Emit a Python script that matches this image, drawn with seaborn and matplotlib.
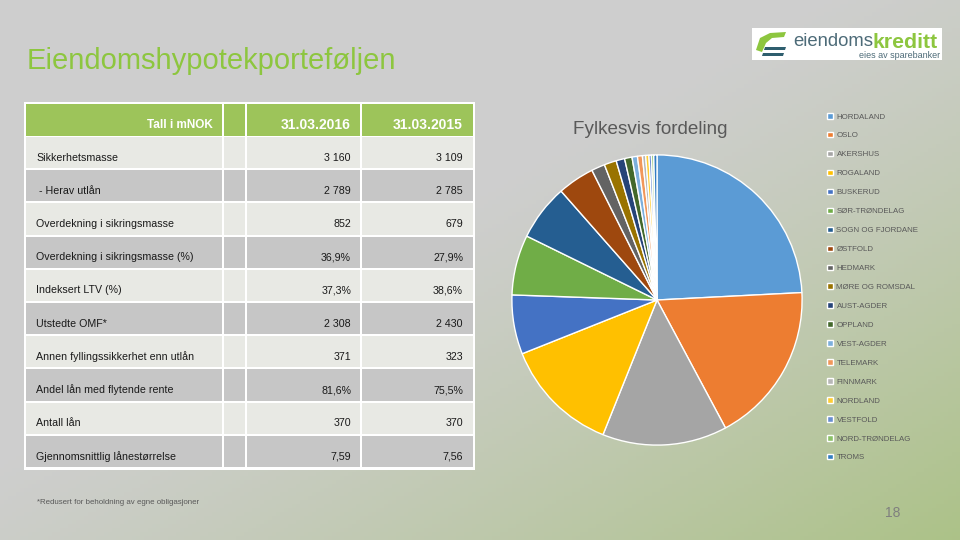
import numpy as np
import seaborn as sns
import matplotlib.pyplot as plt
from matplotlib.patches import Rectangle, Polygon

# table data
row_labels = [
    "Sikkerhetsmasse",
    " - Herav utlån",
    "Overdekning i sikringsmasse",
    "Overdekning i sikringsmasse (%)",
    "Indeksert LTV (%)",
    "Utstedte OMF*",
    "Annen fyllingssikkerhet enn utlån",
    "Andel lån med flytende rente",
    "Antall lån",
    "Gjennomsnittlig lånestørrelse",
]
col_2016 = ["3 160", "2 789", "852", "36,9%", "37,3%", "2 308", "371", "81,6%", "370", "7,59"]
col_2015 = ["3 109", "2 785", "679", "27,9%", "38,6%", "2 430", "323", "75,5%", "370", "7,56"]
header = ["Tall i mNOK", "31.03.2016", "31.03.2015"]

# pie data (share of portfolio, %)
counties = [
    "HORDALAND", "OSLO", "AKERSHUS", "ROGALAND", "BUSKERUD", "SØR-TRØNDELAG",
    "SOGN OG FJORDANE", "ØSTFOLD", "HEDMARK", "MØRE OG ROMSDAL", "AUST-AGDER",
    "OPPLAND", "VEST-AGDER", "TELEMARK", "FINNMARK", "NORDLAND", "VESTFOLD",
    "NORD-TRØNDELAG", "TROMS",
]
shares = [24.2, 18.0, 13.9, 12.9, 6.6, 6.7, 6.25, 4.1, 1.5, 1.36, 0.95,
          0.83, 0.6, 0.55, 0.36, 0.36, 0.28, 0.25, 0.36]
county_colors = [
    "#5B9BD5", "#ED7D31", "#A5A5A5", "#FFC000", "#4472C4", "#70AD47",
    "#255E91", "#9E480E", "#636363", "#997300", "#264478", "#43682B",
    "#7CAFDD", "#F1975A", "#B7B7B7", "#FFCD33", "#698ED0", "#8CC168", "#327DC2",
]

sns.set_theme(style="white")
plt.rcParams["font.family"] = ["Liberation Sans", "DejaVu Sans"]

W, H = 960, 540
fig = plt.figure(figsize=(9.6, 5.4), dpi=100)

# background in pixel coordinates
bg = fig.add_axes([0, 0, 1, 1])
bg.set_xlim(0, W)
bg.set_ylim(H, 0)
bg.axis("off")
xx, yy = np.meshgrid(np.linspace(0, 1, 240), np.linspace(0, 1, 135))
w = np.clip(xx * 0.65 + yy * 0.65 - 0.55, 0, 1) ** 1.2
gray = np.array([0.81, 0.81, 0.81])
green = np.array([0.62, 0.74, 0.42])
img = gray[None, None, :] * (1 - w[..., None]) + green[None, None, :] * w[..., None]
bg.imshow(img, extent=(0, W, H, 0), aspect="auto", zorder=0)

# title
bg.text(27, 61, "Eiendomshypotekporteføljen", color="#8DC63F", fontsize=21,
        va="center", ha="left")

# logo
bg.add_patch(Rectangle((752, 28), 190, 32, facecolor="white", edgecolor="none", zorder=2))
bg.add_patch(Polygon([(756, 50), (760, 38), (770, 33), (786, 32), (784, 37),
                      (772, 38), (766, 43), (762, 52)], closed=True,
                     facecolor="#8DC63F", edgecolor="none", zorder=3))
bg.add_patch(Polygon([(765, 47), (786, 47), (785, 50), (764, 50)], closed=True,
                     facecolor="#2E5E6E", edgecolor="none", zorder=3))
bg.add_patch(Polygon([(763, 53), (784, 53), (783, 56), (762, 56)], closed=True,
                     facecolor="#2E5E6E", edgecolor="none", zorder=3))
bg.text(873, 42, "eiendoms", color="#4D6B78", fontsize=13.3, va="center", ha="right", zorder=3)
bg.text(873, 42, "kreditt", color="#8DC63F", fontsize=15.3, fontweight="bold",
        va="center", ha="left", zorder=3)
bg.text(940, 55, "eies av sparebanker", color="#4D6B78", fontsize=6.5,
        va="center", ha="right", zorder=3)

# table
col_edges = [(26, 222), (224, 245), (247, 360), (362, 473)]
top, head_h, row_h = 104, 32, 33.2
n_rows = len(row_labels)
bg.add_patch(Rectangle((24, top - 2), 451, head_h + 3 + n_rows * row_h + 1,
                       facecolor="white", edgecolor="none", zorder=1))
head_color = "#9DC45A"
for x0, x1 in col_edges:
    bg.add_patch(Rectangle((x0, top), x1 - x0, head_h, facecolor=head_color,
                           edgecolor="none", zorder=2))
hy = top + head_h / 2 + 5
bg.text(213, hy, header[0], color="white", fontsize=8.5,
        fontweight="bold", ha="right", va="center", zorder=3)
bg.text(351, hy, header[1], color="white", fontsize=10,
        fontweight="bold", ha="right", va="center", zorder=3)
bg.text(463, hy, header[2], color="white", fontsize=10,
        fontweight="bold", ha="right", va="center", zorder=3)

for i, (lab, v16, v15) in enumerate(zip(row_labels, col_2016, col_2015)):
    y0 = top + head_h + 1 + i * row_h
    fc = "#E8E9E4" if i % 2 == 0 else "#C6C6C6"
    for x0, x1 in col_edges:
        bg.add_patch(Rectangle((x0, y0), x1 - x0, row_h - 2, facecolor=fc,
                               edgecolor="none", zorder=2))
    yc = y0 + row_h / 2 + 4
    bg.text(36, yc, lab, color="#1A1A1A", fontsize=7.7, ha="left", va="center", zorder=3)
    bg.text(351, yc, v16, color="#1A1A1A", fontsize=7.7, ha="right", va="center", zorder=3)
    bg.text(463, yc, v15, color="#1A1A1A", fontsize=7.7, ha="right", va="center", zorder=3)

# footer
bg.text(37, 503, "*Redusert for beholdning av egne obligasjoner", color="#595959",
        fontsize=5.7, ha="left", va="center")
bg.text(893, 513, "18", color="#7F7F7F", fontsize=10, ha="center", va="center")

# pie
cx, cy, r = 657, 300, 148
pie_ax = fig.add_axes([(cx - r) / W, (H - cy - r) / H, 2 * r / W, 2 * r / H])
palette = sns.color_palette(county_colors)
wedges, _ = pie_ax.pie(shares, colors=palette, startangle=90, counterclock=False,
                       wedgeprops=dict(edgecolor="white", linewidth=1.0))
pie_ax.set_xlim(-1.02, 1.02)
pie_ax.set_ylim(-1.02, 1.02)
pie_ax.set_aspect("equal")
pie_ax.axis("off")
bg.text(650, 130, "Fylkesvis fordeling", color="#595959", fontsize=13.6,
        ha="center", va="center")

leg = fig.legend(wedges, counties, loc="upper left",
                 bbox_to_anchor=(827 / W, 1 - 113 / H), frameon=False,
                 fontsize=5.7, handlelength=0.7, handleheight=0.7,
                 handletextpad=0.5, labelspacing=1.44, borderpad=0,
                 borderaxespad=0)
for t in leg.get_texts():
    t.set_color("#595959")

fig.savefig("out.png", dpi=100)
